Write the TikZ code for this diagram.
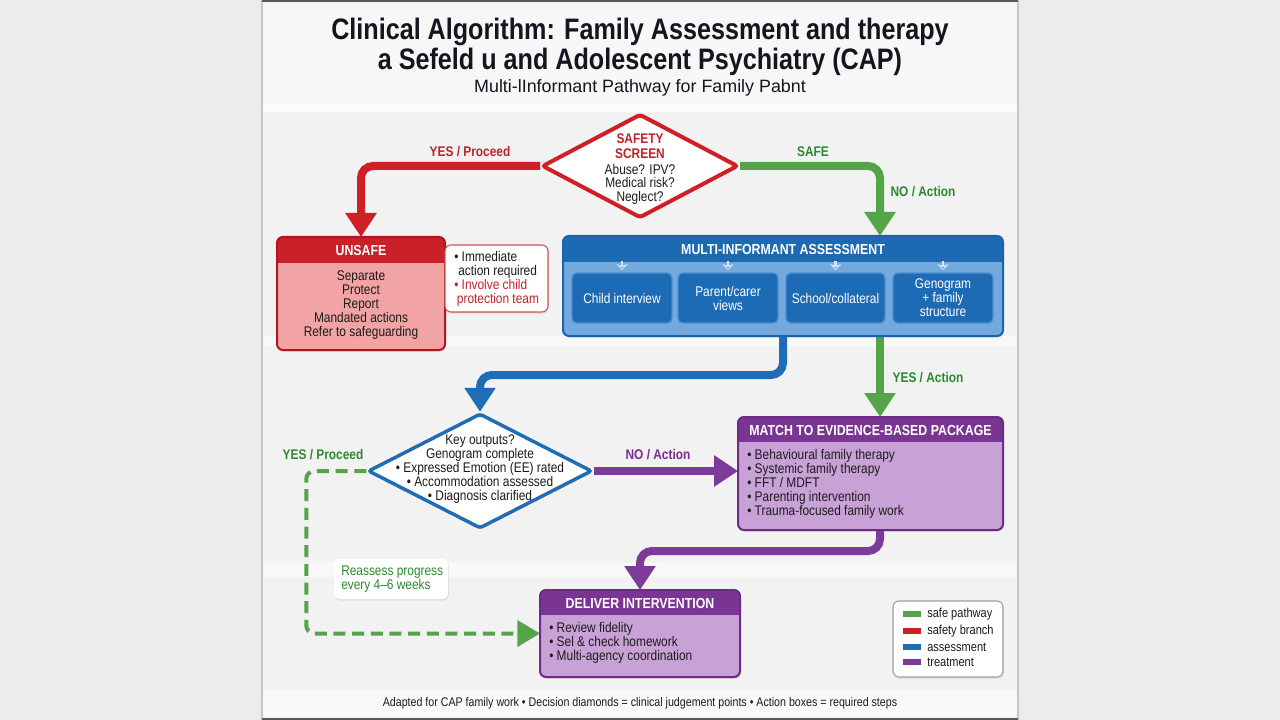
\documentclass[tikz,border=0pt]{standalone}
\usepackage{fontspec}
\setmainfont{Liberation Sans}[FakeStretch=0.85]
\newfontfamily\widefont{Liberation Sans}
\usetikzlibrary{shapes.geometric,arrows.meta,calc,shadows}
\definecolor{outerbg}{HTML}{ECECEC}
\definecolor{panelbg}{HTML}{F2F2F2}
\definecolor{titlecol}{HTML}{15151F}
\definecolor{txt}{HTML}{1B1B1B}
\definecolor{redc}{HTML}{CF2027}
\definecolor{redtxt}{HTML}{C1222A}
\definecolor{unsafehead}{HTML}{C9202A}
\definecolor{unsafebody}{HTML}{F2A3A3}
\definecolor{unsafeborder}{HTML}{B0161E}
\definecolor{greenc}{HTML}{53A548}
\definecolor{labgreen}{HTML}{2B8A2F}
\definecolor{bluec}{HTML}{1F6DB4}
\definecolor{multihead}{HTML}{1D6AB2}
\definecolor{multibody}{HTML}{74A9DD}
\definecolor{multiborder}{HTML}{1A64AB}
\definecolor{subbox}{HTML}{1D6BB4}
\definecolor{subborder}{HTML}{4A8FD1}
\definecolor{chevcol}{HTML}{D6E8F8}
\definecolor{purplec}{HTML}{7E3A98}
\definecolor{matchhead}{HTML}{7A3592}
\definecolor{matchbody}{HTML}{C8A2D6}
\definecolor{matchborder}{HTML}{6C2B86}
\definecolor{labpurple}{HTML}{7A2C8F}
\pgfdeclarelayer{back}
\pgfdeclarelayer{conns}
\pgfsetlayers{back,conns,main}
\newcommand\boxhead[4]{%
  \begin{scope}
    \clip[rounded corners=4.5pt] (#1.north west) rectangle (#1.south east);
    \fill[#2] (#1.north west) rectangle ($(#1.north east)+(0,#3)$);
  \end{scope}
  \draw[#4, line width=1.5pt, rounded corners=4.5pt] (#1.north west) rectangle (#1.south east);}
\begin{document}
\begin{tikzpicture}[x=0.75pt,y=-0.75pt,
  box/.style={rectangle, rounded corners=4.5pt, outer sep=0pt, inner sep=0pt,
    drop shadow={opacity=0.18, shadow xshift=0.6pt, shadow yshift=-1.2pt}},
  body/.style={font=\fontsize{10.5}{10.5}\selectfont, text=txt, inner sep=0pt},
  head/.style={font=\bfseries\fontsize{10.9}{12}\selectfont, text=white, inner sep=0pt},
  lbl/.style={font=\bfseries\fontsize{10.5}{12}\selectfont, inner sep=0pt},
  conn/.style={line width=6pt, rounded corners=9pt, -{Triangle[width=22.5pt,length=18pt]}},
  dconn/.style={line width=3pt, greenc, dash pattern=on 9pt off 5pt, rounded corners=6pt,
    -{Triangle[width=19.5pt,length=17pt]}},
  subb/.style={rectangle, rounded corners=3.5pt, fill=subbox, draw=subborder, line width=1pt,
    minimum width=75pt, minimum height=37.5pt, inner sep=0pt, outer sep=0pt, align=center,
    text=white, font=\fontsize{10.5}{10.5}\selectfont},
  chev/.style={line width=1.6pt, color=chevcol, -{Stealth[length=4.5pt,width=8.5pt,open,fill=multihead]}}
]
\useasboundingbox (0,0) rectangle (1280,720);
\begin{pgfonlayer}{back}
\fill[outerbg] (0,0) rectangle (1280,720);
\fill[panelbg] (262,0) rectangle (1018,720);
\fill[white, opacity=0.45] (262,0) rectangle (1018,104);
\fill[white, opacity=0.7] (262,104) rectangle (1018,112);
\fill[white, opacity=0.5] (262,336) rectangle (1018,346);
\fill[white, opacity=0.5] (262,562) rectangle (1018,577);
\fill[white, opacity=0.6] (262,690) rectangle (1018,716);
\draw[gray!45, line width=0.8pt] (262,0) -- (262,720) (1018,0) -- (1018,720);
\draw[gray!70!black, line width=1.2pt] (262,0.8) -- (1018,0.8) (262,719) -- (1018,719);
\end{pgfonlayer}

% titles
\node[font=\bfseries\fontsize{22.2}{26}\selectfont, text=titlecol, inner sep=0pt] (t1) at (640,32) {Clinical Algorithm: Family Assessment and therapy};
\node[font=\bfseries\fontsize{22.2}{26}\selectfont, text=titlecol, inner sep=0pt] (t2) at (640,62) {a Sefeld u and Adolescent Psychiatry (CAP)};
\node[font=\widefont\fontsize{13.4}{15}\selectfont, text=titlecol, inner sep=0pt] (t3) at (640,88) {Multi-lInformant Pathway for Family Pabnt};

% safety diamond
\node[diamond, draw=redc, fill=white, line width=3pt, rounded corners=2pt, minimum width=147pt, minimum height=78pt, inner sep=0pt,
  drop shadow={opacity=0.15, shadow xshift=0.6pt, shadow yshift=-1.2pt}] (safety) at (640,166) {};
\node[font=\bfseries\fontsize{10.5}{11.3}\selectfont, text=redtxt, align=center, inner sep=0pt] (sstitle) at (640,146) {SAFETY\\SCREEN};
\node[body, align=center, font=\fontsize{10.5}{10.1}\selectfont] (sstxt) at (640,184) {Abuse? IPV?\\Medical risk?\\Neglect?};

% unsafe box
\node[box, fill=unsafebody, minimum width=126pt, minimum height=84.75pt] (unsafe) at (361,293.5) {};
\boxhead{unsafe}{unsafehead}{26}{unsafeborder}
\node[head] (unsafeh) at (361,250) {UNSAFE};
\node[body, align=center] (unsafetxt) at (361,305) {Separate\\Protect\\Report\\Mandated actions\\Refer to safeguarding};

% note box
\node[box, fill=white, draw=redc!80, line width=0.8pt, minimum width=77.25pt, minimum height=50.25pt] (note) at (496.5,278.5) {};
\node[body, align=left, anchor=west] (notetxt) at (454,279) {• Immediate\\\hspace{3pt}action required\\\textcolor{redtxt}{• Involve child}\\\textcolor{redtxt}{\hspace{2pt}protection team}};

% multi-informant box
\node[box, fill=multibody, minimum width=330pt, minimum height=75pt] (multi) at (783,286) {};
\boxhead{multi}{multihead}{26}{multiborder}
\node[head] (multih) at (783,249) {MULTI-INFORMANT ASSESSMENT};
\node[subb] (s1) at (622,298) {Child interview};
\node[subb] (s2) at (728,298) {Parent/carer\\views};
\node[subb, minimum width=74.25pt] (s3) at (835.5,298) {School/collateral};
\node[subb] (s4) at (943,298) {Genogram\\+ family\\structure};
\foreach \s in {s1,s2,s3,s4}{
  \draw[chev] ($(\s.north)+(0,-12)$) -- ($(\s.north)+(0,-3)$);
}

% key outputs diamond
\node[diamond, draw=bluec, fill=white, line width=2.6pt, rounded corners=2pt, minimum width=168pt, minimum height=86.25pt, inner sep=0pt,
  drop shadow={opacity=0.15, shadow xshift=0.6pt, shadow yshift=-1.2pt}] (keyd) at (480,471) {};
\node[body, align=center] (keytxt) at (480,469) {Key outputs?\\Genogram complete\\• Expressed Emotion (EE) rated\\• Accommodation assessed\\• Diagnosis clarified};

% match box
\node[box, fill=matchbody, minimum width=198.75pt, minimum height=84.75pt] (match) at (870.5,473.5) {};
\boxhead{match}{matchhead}{25}{matchborder}
\node[head] (matchh) at (870.5,430) {MATCH TO EVIDENCE-BASED PACKAGE};
\node[body, align=left, anchor=west] (matchtxt) at (747,484) {• Behavioural family therapy\\• Systemic family therapy\\• FFT / MDFT\\• Parenting intervention\\• Trauma-focused family work};

% deliver box
\node[box, fill=matchbody, minimum width=150pt, minimum height=65.25pt] (deliver) at (640,633.5) {};
\boxhead{deliver}{matchhead}{25}{matchborder}
\node[head] (deliverh) at (640,603) {DELIVER INTERVENTION};
\node[body, align=left, anchor=west] (delivertxt) at (549,643) {• Review fidelity\\• Sel \& check homework\\• Multi-agency coordination};

% reassess note
\node[box, fill=white, minimum width=85.5pt, minimum height=30pt] (reassess) at (391,579) {};
\node[body, align=left, anchor=west, text=labgreen] (reassesstxt) at (341,579) {Reassess progress\\every 4–6 weeks};

% legend
\node[box, fill=white, draw=gray!75, line width=0.8pt, minimum width=82.5pt, minimum height=57pt] (legend) at (948,639) {};
\fill[greenc] (903,611) rectangle (921,617);
\fill[redc] (903,628) rectangle (921,634);
\fill[bluec] (903,644) rectangle (921,650);
\fill[purplec] (903,659) rectangle (921,665);
\node[font=\fontsize{9.75}{10}\selectfont, text=txt, anchor=west, inner sep=0pt] (lg1) at (927,614) {safe pathway};
\node[font=\fontsize{9.75}{10}\selectfont, text=txt, anchor=west, inner sep=0pt] (lg2) at (927,631) {safety branch};
\node[font=\fontsize{9.75}{10}\selectfont, text=txt, anchor=west, inner sep=0pt] (lg3) at (927,647) {assessment};
\node[font=\fontsize{9.75}{10}\selectfont, text=txt, anchor=west, inner sep=0pt] (lg4) at (927,662) {treatment};

% footer
\node[font=\fontsize{9.4}{10}\selectfont, text=txt, inner sep=0pt] (footer) at (640,703) {Adapted for CAP family work • Decision diamonds = clinical judgement points • Action boxes = required steps};

% connector labels
\node[lbl, text=redtxt] (lb1) at (470,152) {YES / Proceed};
\node[lbl, text=labgreen] (lb2) at (813,152) {SAFE};
\node[lbl, text=labgreen] (lb3) at (923,192) {NO / Action};
\node[lbl, text=labgreen] (lb4) at (928,378) {YES / Action};
\node[lbl, text=labpurple] (lb5) at (658,455) {NO / Action};
\node[lbl, text=labgreen] (lb6) at (323,455) {YES / Proceed};

% connectors
\begin{pgfonlayer}{conns}
\draw[conn, redc] (safety.west) -| (unsafe.north);
\draw[conn, greenc] (safety.east) -| ($(multi.north east)+(-123,0)$);
\draw[conn, bluec] ($(multi.south west)+(220,0)$) -- ++(0,39) -| (keyd.north);
\draw[conn, greenc] ($(multi.south east)+(-123,0)$) -- ($(match.north east)+(-123,0)$);
\draw[conn, purplec] (keyd.east) -- (keyd.east -| match.west);
\draw[conn, purplec] ($(match.south east)+(-123,0)$) -- ++(0,21) -| (deliver.north);
\draw[dconn] (keyd.west) -- ++(-60,0) |- (deliver.west);
\end{pgfonlayer}
\end{tikzpicture}
\end{document}
